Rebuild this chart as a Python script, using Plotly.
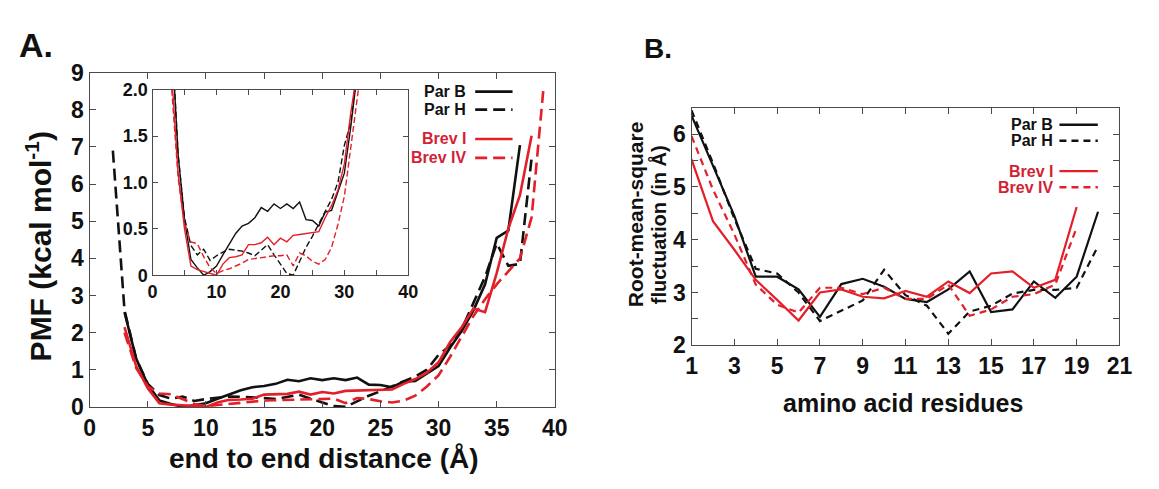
import plotly.graph_objects as go

W, H = 1159, 489

# ---------------- Panel A data (PMF vs end-to-end distance) ----------------
parB_x = list(range(3, 38))
parB_pmf = [2.55, 1.3, 0.6, 0.17, 0.08, 0.0, 0.04, 0.1, 0.22, 0.33, 0.45, 0.53, 0.56, 0.62,
            0.73, 0.69, 0.77, 0.72, 0.77, 0.72, 0.79, 0.6, 0.59, 0.53, 0.68, 0.7, 0.9, 1.1,
            1.6, 2.05, 2.6, 3.3, 4.55, 4.75, 7.05]
parH_x = list(range(2, 39))
parH_pmf = [6.9, 2.6, 1.3, 0.62, 0.32, 0.22, 0.28, 0.16, 0.21, 0.25, 0.28, 0.27, 0.26, 0.24,
            0.21, 0.27, 0.33, 0.22, 0.12, 0.02, 0.0, 0.15, 0.3, 0.42, 0.55, 0.68, 0.82, 1.0,
            1.4, 1.65, 2.1, 2.8, 3.5, 4.4, 3.8, 3.85, 6.7]
brevI_x = list(range(3, 39))
brevI_pmf = [2.15, 1.1, 0.5, 0.1, 0.06, 0.04, 0.02, 0.0, 0.12, 0.19, 0.2, 0.22, 0.33, 0.33,
             0.35, 0.41, 0.33, 0.4, 0.36, 0.43, 0.44, 0.45, 0.46, 0.47, 0.62, 0.75, 0.92, 1.2,
             1.75, 2.15, 2.65, 2.55, 3.6, 4.8, 5.7, 7.3]
brevIV_x = list(range(3, 40))
brevIV_pmf = [2.0, 1.05, 0.55, 0.36, 0.34, 0.2, 0.08, 0.02, 0.05, 0.07, 0.1, 0.13, 0.17, 0.18,
              0.19, 0.2, 0.21, 0.21, 0.22, 0.1, 0.24, 0.21, 0.15, 0.12, 0.17, 0.3, 0.55, 0.85,
              1.35, 1.9, 2.45, 2.9, 3.3, 3.65, 4.0, 5.1, 8.5]

# ---------------- Panel B data (RMSF vs residue) ----------------
resid_par = list(range(1, 21))
resid_brev = list(range(1, 20))
parB_rmsf = [6.35, 5.4, 4.45, 3.3, 3.3, 3.06, 2.54, 3.16, 3.26, 3.11, 2.88, 2.82, 3.06, 3.4,
             2.63, 2.68, 3.21, 2.9, 3.3, 4.53]
parH_rmsf = [6.45, 5.45, 4.4, 3.45, 3.36, 3.0, 2.46, 2.65, 2.85, 3.43, 2.95, 2.75, 2.22, 2.64,
             2.75, 2.98, 3.05, 3.05, 3.09, 3.88]
brevI_rmsf = [5.52, 4.35, 3.81, 3.24, 2.86, 2.47, 3.0, 3.06, 2.92, 2.89, 3.03, 2.92, 3.21, 2.99,
              3.36, 3.4, 3.09, 3.24, 4.62]
brevIV_rmsf = [5.96, 4.95, 4.1, 3.15, 2.77, 2.62, 3.09, 3.09, 2.97, 3.09, 2.88, 2.88, 3.15, 2.56,
               2.68, 2.92, 2.97, 3.15, 4.23]

names = ["Par B", "Par H", "Brev I", "Brev IV"]
BLACK = "#111111"
RED = "#e3202a"
RED_TXT = "#d41f35"
colors = [BLACK, BLACK, RED, RED]

FONT = "Liberation Sans, Arial, Helvetica, sans-serif"


def px2x(px):
    return px / W


def py2y(py):
    return 1 - py / H


fig = go.Figure()

pmf_sets = [(parB_x, parB_pmf), (parH_x, parH_pmf), (brevI_x, brevI_pmf), (brevIV_x, brevIV_pmf)]
main_dash = ["solid", "12px,6px", "solid", "12px,6px"]
inset_dash = ["solid", "6px,3px", "solid", "6px,3px"]

for (xs, ys), c, d, n in zip(pmf_sets, colors, main_dash, names):
    fig.add_trace(go.Scatter(x=xs, y=ys, mode="lines", name=n, showlegend=False,
                             line=dict(color=c, width=2.6, dash=d), xaxis="x", yaxis="y"))
for (xs, ys), c, d, n in zip(pmf_sets, colors, inset_dash, names):
    fig.add_trace(go.Scatter(x=xs, y=ys, mode="lines", name=n, showlegend=False,
                             line=dict(color=c, width=1.4, dash=d), xaxis="x2", yaxis="y2"))

rmsf_sets = [(resid_par, parB_rmsf), (resid_par, parH_rmsf), (resid_brev, brevI_rmsf),
             (resid_brev, brevIV_rmsf)]
b_dash = ["solid", "7px,5px", "solid", "7px,5px"]
for (xs, ys), c, d, n in zip(rmsf_sets, colors, b_dash, names):
    fig.add_trace(go.Scatter(x=xs, y=ys, mode="lines", name=n, showlegend=False,
                             line=dict(color=c, width=2.2, dash=d), xaxis="x3", yaxis="y3"))

AX = dict(showline=True, linecolor="#4a4a4a", linewidth=1.4, mirror="allticks",
          ticks="inside", tickcolor="#4a4a4a", ticklen=6, tickwidth=1.2,
          showgrid=False, zeroline=False,
          tickfont=dict(family=FONT, size=23, color="#111", weight="bold"))

fig.update_layout(
    width=W, height=H, margin=dict(l=0, r=0, t=0, b=0),
    paper_bgcolor="white", plot_bgcolor="white", showlegend=False,
    xaxis=dict(AX, domain=[px2x(85), px2x(558)], range=[0, 40], tick0=0, dtick=5,
               anchor="y"),
    yaxis=dict(AX, domain=[py2y(416), py2y(63)], range=[0, 9], tick0=0, dtick=1,
               anchor="x"),
    xaxis2=dict(AX, domain=[px2x(149), px2x(409)], range=[0, 40], tickvals=[0, 10, 20, 30, 40],
                ticktext=["0", "10", "20", "30", "40"], anchor="y2", ticklen=5,
                minor=dict(dtick=5, tick0=0, ticks="inside", ticklen=5, tickcolor="#4a4a4a"),
                tickfont=dict(family=FONT, size=18, color="#111", weight="bold")),
    yaxis2=dict(AX, domain=[py2y(277), py2y(81)], range=[0, 2],
                tickvals=[0, 0.5, 1.0, 1.5, 2.0], ticktext=["0", "0.5", "1.0", "1.5", "2.0"],
                anchor="x2", ticklen=5,
                tickfont=dict(family=FONT, size=18, color="#111", weight="bold")),
    xaxis3=dict(AX, domain=[px2x(697), px2x(1132)], range=[1, 21], tick0=1, dtick=2,
                anchor="y3"),
    yaxis3=dict(AX, domain=[py2y(351), py2y(100)], range=[2, 6.5], tick0=2, dtick=1,
                anchor="x3",
                minor=dict(dtick=0.5, tick0=2, ticks="inside", ticklen=6, tickcolor="#4a4a4a")),
)

ann = []


def txt(x, y, s, size, color="#111", xanchor="center", yanchor="middle", angle=0):
    ann.append(dict(x=px2x(x), y=py2y(y), xref="paper", yref="paper", text=s, showarrow=False,
                    xanchor=xanchor, yanchor=yanchor, textangle=angle,
                    font=dict(family=FONT, size=size, color=color, weight="bold")))


txt(30, 34, "A.", 34)
txt(663, 38, "B.", 28)
txt(33, 246, "PMF (kcal mol<sup>-1</sup>)", 30, angle=-90)
txt(323, 470, "end to end distance (Å)", 28)
txt(912, 412, "amino acid residues", 25)
txt(640, 213, "Root-mean-square", 21, angle=-90)
txt(663, 224, "fluctuation (in Å)", 20, angle=-90)

# legends
legA_y = [83, 102, 133, 153]
legB_y = [118, 135, 167, 184]
txt_colors = [BLACK, BLACK, RED_TXT, RED_TXT]
shapes = []
for n, yy, c, tc, d in zip(names, legA_y, colors, txt_colors, main_dash):
    txt(470, yy, n, 16, color=tc, xanchor="right")
    shapes.append(dict(type="line", xref="paper", yref="paper", x0=px2x(477), x1=px2x(515),
                       y0=py2y(yy), y1=py2y(yy), line=dict(color=c, width=2.6, dash=d)))
for n, yy, c, tc, d in zip(names, legB_y, colors, txt_colors, b_dash):
    txt(1066, yy, n, 16, color=tc, xanchor="right")
    shapes.append(dict(type="line", xref="paper", yref="paper", x0=px2x(1071), x1=px2x(1110),
                       y0=py2y(yy), y1=py2y(yy), line=dict(color=c, width=2.4, dash=d)))

fig.update_layout(annotations=ann, shapes=shapes)
fig.write_html("out.html")
